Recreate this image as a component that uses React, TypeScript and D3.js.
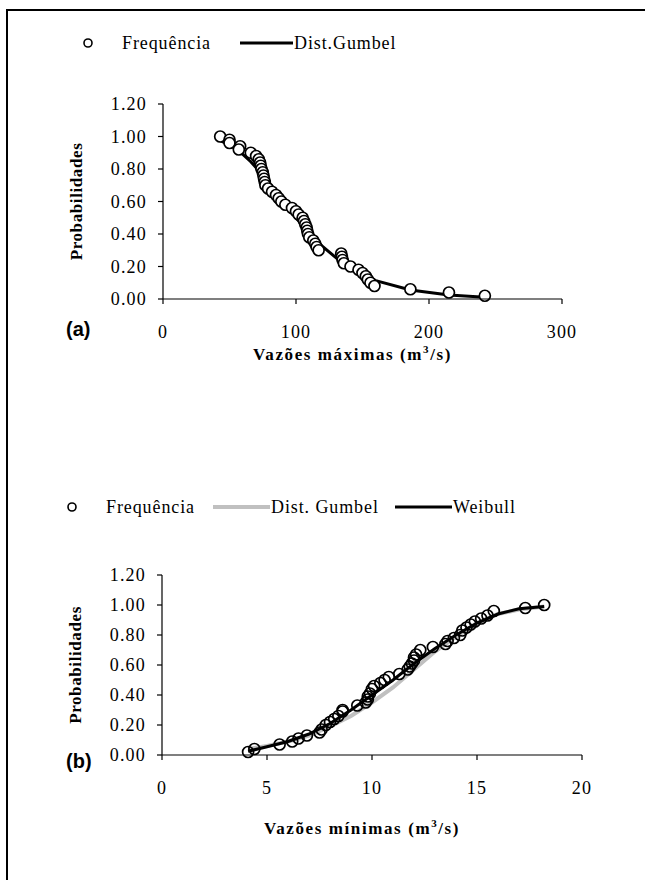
import React from "react";
import * as d3 from "d3";

// (a) vazões máximas: observed frequencies
const maxFlow = [43, 50, 50, 58, 57, 66, 70, 72, 73, 73.5, 74, 75, 75.5, 76, 76.5, 77, 79, 82, 85, 87,
  89, 92, 97, 100, 102, 105, 106, 107, 108, 108.5, 109, 110, 113, 114.5, 115.5, 117, 134, 134.5, 135, 136,
  141, 147, 150, 152.5, 154, 156, 159, 186, 215, 242];
const maxProb = [1.0, 0.98, 0.96, 0.94, 0.92, 0.9, 0.88, 0.86, 0.84, 0.82, 0.8, 0.78, 0.76, 0.74, 0.72, 0.7,
  0.68, 0.66, 0.64, 0.62, 0.6, 0.58, 0.56, 0.54, 0.52, 0.5, 0.48, 0.46, 0.44, 0.42, 0.4, 0.38, 0.36, 0.34,
  0.32, 0.3, 0.28, 0.26, 0.24, 0.22, 0.2, 0.18, 0.16, 0.14, 0.12, 0.1, 0.08, 0.06, 0.04, 0.02];
// (a) Gumbel curve
const maxGumbelX = [43, 50, 58, 66, 75, 85, 100, 110, 117, 134, 150, 160, 186, 215, 242];
const maxGumbelP = [0.974, 0.949, 0.905, 0.845, 0.762, 0.658, 0.5, 0.404, 0.344, 0.227, 0.149, 0.113, 0.055, 0.024, 0.011];

// (b) vazões mínimas: observed frequencies
const minFlow = [4.1, 4.4, 5.6, 6.2, 6.5, 6.9, 7.5, 7.6, 7.8, 8.0, 8.2, 8.4, 8.6, 8.6, 9.3, 9.7, 9.8, 9.8,
  9.9, 10.0, 10.1, 10.4, 10.6, 10.8, 11.3, 11.7, 11.8, 11.9, 12.0, 12.0, 12.1, 12.3, 12.9, 13.5, 13.6, 13.9,
  14.2, 14.3, 14.5, 14.7, 14.9, 15.2, 15.5, 15.8, 17.3, 18.2];
const minProb = [0.02, 0.04, 0.07, 0.09, 0.11, 0.13, 0.15, 0.17, 0.2, 0.22, 0.24, 0.26, 0.29, 0.3, 0.33,
  0.35, 0.37, 0.39, 0.41, 0.44, 0.46, 0.48, 0.5, 0.52, 0.54, 0.57, 0.59, 0.61, 0.63, 0.65, 0.67, 0.7, 0.72,
  0.74, 0.76, 0.78, 0.8, 0.83, 0.85, 0.87, 0.89, 0.91, 0.93, 0.96, 0.98, 1.0];
// (b) Gumbel and Weibull curves
const minCurveX = [4.1, 5, 6, 7, 8, 9, 10, 11, 12, 13, 14, 15, 16, 17, 18.2];
const minGumbelP = [0.04, 0.06, 0.09, 0.13, 0.19, 0.26, 0.35, 0.45, 0.57, 0.69, 0.79, 0.88, 0.94, 0.97, 0.99];
const minWeibullP = [0.025, 0.055, 0.09, 0.14, 0.21, 0.3, 0.4, 0.5, 0.61, 0.71, 0.8, 0.88, 0.94, 0.975, 0.99];

const probTicks = [0, 0.2, 0.4, 0.6, 0.8, 1.0, 1.2];
const maxTicks = [0, 100, 200, 300];
const minTicks = [0, 5, 10, 15, 20];

const serif = "'Liberation Serif', 'Times New Roman', serif";
const fmt = d3.format(".2f");

type Curve = { xs: number[]; ps: number[]; color: string; width: number; name: string };

type PanelProps = {
  left: number; right: number; top: number; bottom: number;
  xMax: number; xTicks: number[];
  px: number[]; pp: number[]; fill: string;
  curves: Curve[];
  letter: string; letterY: number; title: string; titleY: number;
  legendY: number; legendX: number[]; legendLen: number;
};

function Panel(p: PanelProps) {
  const x = d3.scaleLinear().domain([0, p.xMax]).range([p.left, p.right]);
  const y = d3.scaleLinear().domain([0, 1.2]).range([p.bottom, p.top]);
  const line = d3.line<[number, number]>().x(d => x(d[0])).y(d => y(d[1]));
  const pts = p.px.map((v, i) => [v, p.pp[i]] as [number, number]);

  return (
    <g>
      {/* legend */}
      <g fontFamily={serif} fontSize={18} letterSpacing={0.9}>
        <circle cx={p.legendX[0]} cy={p.legendY} r={4} fill="white" stroke="black" strokeWidth={1.6} />
        <text x={p.legendX[0] + 34} y={p.legendY + 6}>Frequência</text>
        {p.curves.map((c, i) => (
          <g key={c.name}>
            <line x1={p.legendX[i + 1]} x2={p.legendX[i + 1] + p.legendLen} y1={p.legendY} y2={p.legendY}
              stroke={c.color} strokeWidth={c.width} />
            <text x={p.legendX[i + 1] + p.legendLen + 1} y={p.legendY + 6}>{c.name}</text>
          </g>
        ))}
      </g>

      {/* curves */}
      {p.curves.map(c => (
        <path key={c.name} d={line(c.xs.map((v, i) => [v, c.ps[i]] as [number, number])) || ""}
          fill="none" stroke={c.color} strokeWidth={c.width} />
      ))}

      {/* points */}
      {pts.map((d, i) => (
        <circle key={i} cx={x(d[0])} cy={y(d[1])} r={5.5} fill={p.fill} stroke="black" strokeWidth={1.7} />
      ))}

      {/* axes */}
      <line x1={p.left} x2={p.left} y1={p.top} y2={p.bottom} stroke="black" strokeWidth={1.2} />
      <line x1={p.left} x2={p.right} y1={p.bottom} y2={p.bottom} stroke="black" strokeWidth={1.2} />
      {probTicks.map(t => (
        <g key={t}>
          <line x1={p.left - 5} x2={p.left} y1={y(t)} y2={y(t)} stroke="black" strokeWidth={1.2} />
          <text x={p.left - 16} y={y(t) + 6} textAnchor="end" fontFamily={serif} fontSize={18}
            letterSpacing={1.2}>{fmt(t)}</text>
        </g>
      ))}
      {p.xTicks.map(t => (
        <g key={t}>
          <line x1={x(t)} x2={x(t)} y1={p.bottom} y2={p.bottom + 5} stroke="black" strokeWidth={1.2} />
          <text x={x(t)} y={p.bottom + 39} textAnchor="middle" fontFamily={serif} fontSize={18}
            letterSpacing={1.2}>{t}</text>
        </g>
      ))}

      <text transform={`translate(${p.left - 81},${(p.top + p.bottom) / 2}) rotate(-90)`} textAnchor="middle"
        fontFamily={serif} fontSize={17} fontWeight="bold" letterSpacing={0.6}>Probabilidades</text>
      <text x={(p.left + p.right) / 2 - 10} y={p.titleY} textAnchor="middle" fontFamily={serif}
        fontSize={17} fontWeight="bold" letterSpacing={1.6}>
        {p.title} (m<tspan dy={-7} fontSize={11}>3</tspan><tspan dy={7}>/s)</tspan>
      </text>
      <text x={66} y={p.letterY} fontFamily="'Liberation Sans', Arial, sans-serif"
        fontWeight="bold" fontSize={20}>{p.letter}</text>
    </g>
  );
}

export default function App() {
  return (
    <svg width={645} height={880} style={{ position: "absolute", left: 0, top: 0, background: "white" }}>
      <rect width={645} height={880} fill="white" />
      <path d="M7,880 V10 H645" fill="none" stroke="black" strokeWidth={2} />
      <Panel left={163} right={562} top={104} bottom={299} xMax={300} xTicks={maxTicks}
        px={maxFlow} pp={maxProb} fill="white"
        curves={[{ xs: maxGumbelX, ps: maxGumbelP, color: "black", width: 3, name: "Dist.Gumbel" }]}
        letter="(a)" letterY={336} title="Vazões máximas" titleY={360}
        legendY={43} legendX={[88, 240]} legendLen={53} />
      <Panel left={162} right={582} top={575} bottom={755} xMax={20} xTicks={minTicks}
        px={minFlow} pp={minProb} fill="none"
        curves={[
          { xs: minCurveX, ps: minGumbelP, color: "#c0c0c0", width: 4, name: "Dist. Gumbel" },
          { xs: minCurveX, ps: minWeibullP, color: "black", width: 3, name: "Weibull" },
        ]}
        letter="(b)" letterY={768} title="Vazões mínimas" titleY={834}
        legendY={507} legendX={[72, 213, 395]} legendLen={57} />
    </svg>
  );
}
